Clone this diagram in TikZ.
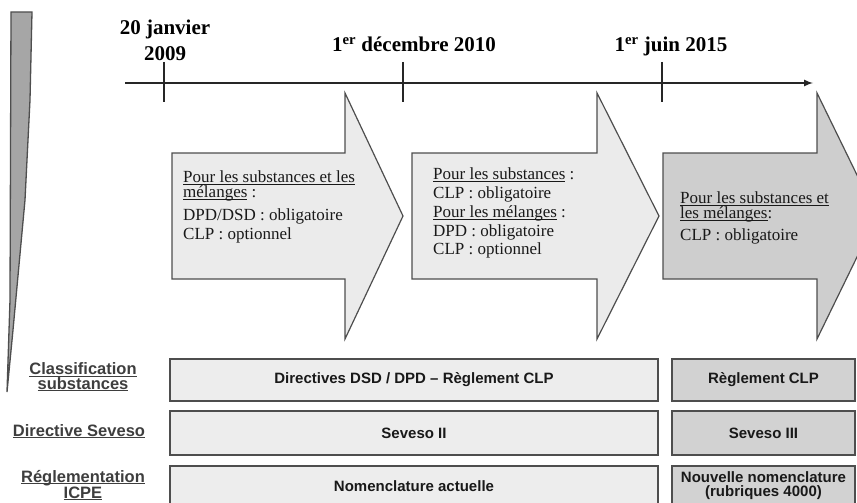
\documentclass[tikz,border=0pt]{standalone}
\usepackage{fontspec}
\setmainfont{Liberation Serif}
\setsansfont{Liberation Sans}
\usepackage{xcolor}
\definecolor{arrowgray}{RGB}{235,235,235}
\definecolor{arrowdark}{RGB}{206,206,206}
\definecolor{boxlight}{RGB}{237,237,237}
\definecolor{boxdark}{RGB}{210,210,210}
\definecolor{edgegray}{RGB}{78,78,78}
\definecolor{labelgray}{RGB}{62,62,62}
\usepackage{tikz}
\usetikzlibrary{calc}
\newcommand{\axisy}{83}
\newcommand{\arrowy}{216}
\newcommand{\bodyhalf}{63}
\newcommand{\headhalf}{123}
\newcommand{\widthold}{488pt}
\newcommand{\widthnew}{183pt}
% underline kept close to the baseline
\newcommand{\undl}[1]{\setbox0\hbox{#1}\rlap{\rule[-1.6pt]{\wd0}{0.8pt}}\box0\relax}
% one period: name, left x, neck x, tip x, fill
\newcommand{\periodarrow}[5]{%
  \draw[periodedge, fill=#5]
    (#2,\arrowy-\bodyhalf) coordinate (#1) -- (#3,\arrowy-\bodyhalf) -- (#3,\arrowy-\headhalf)
    -- (#4,\arrowy) -- (#3,\arrowy+\headhalf) -- (#3,\arrowy+\bodyhalf) -- (#2,\arrowy+\bodyhalf) -- cycle;
}
\tikzset{
    axisline/.style={line width=2pt, black!85},
    datetick/.style={line width=2.2pt, black!85},
    datelabel/.style={font=\fontsize{21}{26}\selectfont\bfseries, align=center, inner sep=0pt},
    periodedge/.style={draw=edgegray, line width=1.2pt, line join=miter},
    periodtext/.style={font=\fontsize{17}{19}\selectfont, align=left, anchor=north west, inner sep=0pt, text=black!90},
    rowbox/.style={draw=edgegray, line width=1.5pt, inner sep=0pt, align=center,
        font=\sffamily\bfseries\fontsize{15}{14}\selectfont, text=black!90},
    oldrule/.style={rowbox, fill=boxlight, minimum width=\widthold},
    newrule/.style={rowbox, fill=boxdark, minimum width=\widthnew},
    rowlabel/.style={font=\sffamily\bfseries\fontsize{16.5}{14.5}\selectfont, text=labelgray, align=center, inner sep=0pt}
}
\begin{document}
\begin{tikzpicture}[x=1pt, y=-1pt]
    \useasboundingbox (0,0) rectangle (857,503);
    \clip (0,0) rectangle (857,503);

    % wedge on the left
    \fill[black!35, draw=edgegray, line width=1.3pt]
        (11,12) -- (32,12) -- (30,100) -- (25,200) -- (13,330) -- (7,392) -- (10,300) -- cycle;

    % time axis
    \draw[axisline, -latex] (125,\axisy) coordinate (axisstart) -- (813,\axisy) coordinate (axisend);
    \foreach \x/\n in {164/tstart, 403/tclp, 662/tseveso}
        \draw[datetick] (\x,\axisy-21) coordinate (\n) -- (\x,\axisy+19);

    \node[datelabel, anchor=south] (dstart) at (165,61) {20 janvier\\2009};
    \node[datelabel, anchor=base] (dclp) at (414,52) {1\textsuperscript{er} décembre 2010};
    \node[datelabel, anchor=base] (dseveso) at (671,52) {1\textsuperscript{er} juin 2015};

    % periods
    \periodarrow{pone}{172}{345}{403}{arrowgray}
    \periodarrow{ptwo}{412}{597}{659}{arrowgray}
    \periodarrow{pthree}{663}{817}{877}{arrowdark}

    \node[periodtext] (tone) at (183,171)
        {\undl{Pour les substances et les}\\[-4pt]\undl{mélanges} :\\[4pt]DPD/DSD : obligatoire\\CLP : optionnel};
    \node[periodtext, font=\fontsize{17}{18.5}\selectfont] (ttwo) at (433,168)
        {\undl{Pour les substances} :\\CLP : obligatoire\\[1pt]\undl{Pour les mélanges} :\\DPD : obligatoire\\CLP : optionnel};
    \node[periodtext] (tthree) at (680,192)
        {\undl{Pour les substances et}\\[-4pt]\undl{les mélanges}:\\[3pt]CLP : obligatoire};

    % rules
    \path (83,377) node[rowlabel] (lclass) {\undl{Classification}\\\undl{substances}}
        ++(331,3) node[oldrule, minimum height=42] (clsold) {Directives DSD / DPD – Règlement CLP}
        ++(349.5,0) node[newrule, minimum height=42] (clsnew) {Règlement CLP};
    \path (79,431) node[rowlabel] (lseveso) {\undl{Directive Seveso}}
        ++(335,2) node[oldrule, minimum height=44] (sevold) {Seveso II}
        ++(349.5,0) node[newrule, minimum height=44] (sevnew) {Seveso III};
    \path (83,485) node[rowlabel] (licpe) {\undl{Réglementation}\\\undl{ICPE}}
        ++(331,1) node[oldrule, minimum height=40] (icpeold) {Nomenclature actuelle}
        ++(349.5,0) node[newrule, minimum height=40] (icpenew) {Nouvelle nomenclature\\(rubriques 4000)};
\end{tikzpicture}
\end{document}
